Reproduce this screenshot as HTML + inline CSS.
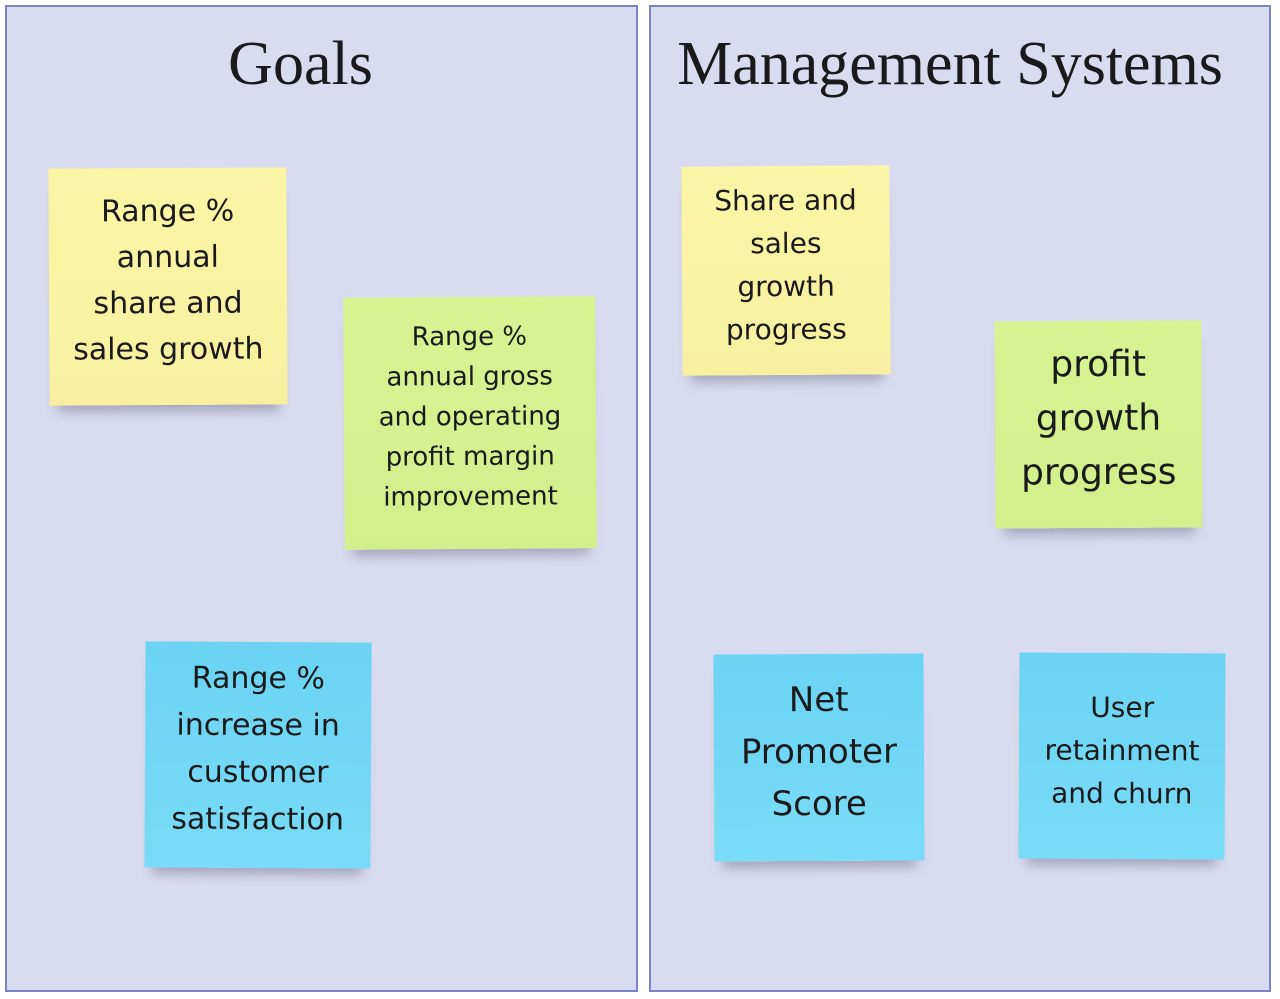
<!DOCTYPE html>
<html><head><meta charset="utf-8"><style>
body{margin:0;width:1280px;height:999px;background:#fff;position:relative;overflow:hidden;font-family:"DejaVu Sans","Liberation Sans",sans-serif;}
.panel{position:absolute;background:#d9dbf0;border:2px solid #7a83c6;box-sizing:border-box;}
.title{position:absolute;font-family:"Liberation Serif",serif;font-size:62px;color:#1a1a1a;text-align:center;width:100%;}
.note{position:absolute;display:flex;align-items:center;justify-content:center;text-align:center;color:#1a1a1a;box-shadow:0 14px 12px -8px rgba(60,60,90,0.35);box-sizing:border-box;padding-bottom:12px;}
.y{background:linear-gradient(#fbf5a6,#f8f0a0);}
.g{background:linear-gradient(#d8f392,#d3ef8c);}
.b{background:linear-gradient(#6bd3f3,#79dbf7);}
</style></head><body>
<div class="panel" style="left:5px;top:5px;width:633px;height:987px;"><div class="title" style="top:22px;left:-21px;">Goals</div></div>
<div class="panel" style="left:649px;top:5px;width:622px;height:987px;"><div class="title" style="top:22px;left:-10px;">Management Systems</div></div>

<div class="note y" style="left:49px;top:168px;width:238px;height:237px;font-size:30px;line-height:46px;transform:rotate(-0.3deg);">Range %<br>annual<br>share and<br>sales growth</div>
<div class="note g" style="left:344px;top:297px;width:252px;height:252px;font-size:26px;line-height:40px;transform:rotate(-0.4deg);">Range %<br>annual gross<br>and operating<br>profit margin<br>improvement</div>
<div class="note b" style="left:145px;top:642px;width:226px;height:226px;font-size:30px;line-height:47px;transform:rotate(0.3deg);">Range %<br>increase in<br>customer<br>satisfaction</div>

<div class="note y" style="left:682px;top:166px;width:208px;height:209px;font-size:28px;line-height:43px;transform:rotate(-0.4deg);">Share and<br>sales<br>growth<br>progress</div>
<div class="note g" style="left:995px;top:321px;width:207px;height:207px;font-size:36px;line-height:54px;transform:rotate(-0.3deg);">profit<br>growth<br>progress</div>
<div class="note b" style="left:714px;top:654px;width:210px;height:207px;font-size:34px;line-height:52px;transform:rotate(-0.3deg);">Net<br>Promoter<br>Score</div>
<div class="note b" style="left:1019px;top:653px;width:206px;height:206px;font-size:28px;line-height:43px;transform:rotate(0.3deg);">User<br>retainment<br>and churn</div>
</body></html>
